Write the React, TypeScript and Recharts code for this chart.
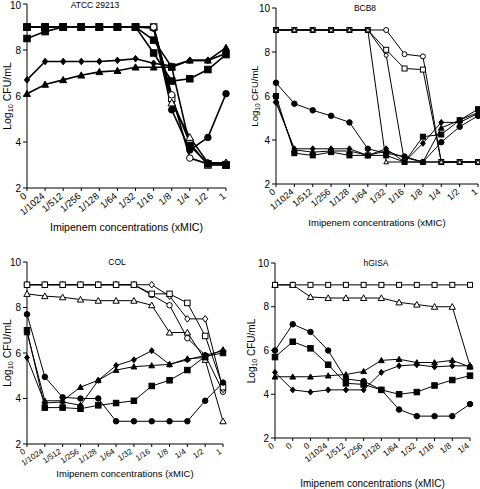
import React from 'react';
import { LineChart, Line, XAxis, YAxis } from 'recharts';

// x-axis categories (imipenem concentration, xMIC)
const mainLabels = ['0', '1/1024', '1/512', '1/256', '1/128', '1/64', '1/32', '1/16', '1/8', '1/4', '1/2', '1'];
const hgisaLabels = ['0', '0', '0', '1/1024', '1/512', '1/256', '1/128', '1/64', '1/32', '1/16', '1/8', '1/4'];
const yTicks = [2, 4, 6, 8, 10];

// ATCC 29213
const atccFilledCircle = [9, 9, 9, 9, 9, 9, 9, 8.95, 5.4, 3.65, 4.2, 6.1];
const atccOpenSquare = [9, 9, 9, 9, 9, 9, 9, 9, 5.9, 3.95, 3.0, 3.0];
const atccOpenTriangle = [9, 9, 9, 9, 9, 9, 9, 9, 5.7, 4.2, 3.1, 3.1];
const atccOpenCircle = [9, 9, 9, 9, 9, 9, 9, 9, 6.05, 3.3, 3.05, 3.05];
const atccFilledDiamond = [6.7, 7.5, 7.5, 7.5, 7.5, 7.55, 7.62, 7.42, 7.3, 7.55, 7.55, 7.85];
const atccFilledTriangle = [6.1, 6.5, 6.7, 6.9, 7.05, 7.1, 7.25, 7.25, 7.25, 7.55, 7.55, 8.1];
const atccFilledSquareA = [8.5, 8.8, 9, 9, 9, 9, 9, 7.87, 6.65, 6.75, 7.15, 7.8];
const atccFilledSquareB = [9, 9, 9, 9, 9, 9, 9, 8.43, 7.26, 3.85, 3.05, 3.0];

// BCB8
const bcbOpenCircle = [9, 9, 9, 9, 9, 9, 9, 7.9, 7.8, 3, 3, 3];
const bcbOpenSquare = [9, 9, 9, 9, 9, 9, 8.1, 7.25, 7.2, 3, 3, 3];
const bcbOpenCircleB = [9, 9, 9, 9, 9, 9, 7.85, 3, 3, 3, 3, 3];
const bcbOpenTriangle = [9, 9, 9, 9, 9, 9, 3, 3, 3, 3, 3, 3];
const bcbFilledCircle = [6.6, 5.65, 5.35, 5.1, 4.8, 3.6, 3.4, 3.25, 3.0, 3.9, 4.6, 5.1];
const bcbFilledSquare = [6.0, 3.4, 3.3, 3.45, 3.3, 3.3, 3.3, 3.0, 4.15, 4.25, 4.9, 5.4];
const bcbFilledTriangle = [5.8, 3.55, 3.45, 3.5, 3.5, 3.3, 3.5, 3.2, 3.0, 4.55, 4.9, 5.25];
const bcbFilledDiamond = [5.7, 3.6, 3.6, 3.6, 3.6, 3.3, 3.6, 3.0, 3.85, 4.8, 4.8, 5.2];

// COL
const colOpenSquare = [9, 9, 9, 9, 9, 9, 9, 8.6, 8.6, 8.2, 6.75, 4.5];
const colOpenDiamond = [9, 9, 9, 9, 9, 9, 9, 9, 8.5, 7.5, 7.5, 4.4];
const colOpenCircle = [9, 9, 9, 9, 9, 9, 9, 8.55, 8.1, 6.65, 5.9, 4.3];
const colOpenTriangle = [8.6, 8.5, 8.45, 8.35, 8.3, 8.3, 8.3, 8.1, 6.9, 6.9, 5.7, 3.0];
const colFilledSquare = [7.0, 3.6, 3.6, 3.55, 3.7, 3.8, 3.9, 4.55, 4.8, 5.25, 5.85, 6.0];
const colFilledCircle = [7.7, 4.95, 4.05, 4.0, 4.0, 3.0, 3.0, 3.0, 3.0, 3.0, 3.9, 4.7];
const colFilledTriangle = [6.9, 3.9, 3.9, 4.5, 4.8, 5.25, 5.4, 5.45, 5.5, 5.75, 5.8, 6.15];
const colFilledDiamond = [5.8, 3.8, 3.85, 3.7, 4.8, 5.45, 5.7, 6.1, 5.5, 5.7, 5.9, 6.1];

// hGISA
const hgisaOpenSquare = [9, 9, 9, 9, 9, 9, 9, 9, 9, 9, 9, 9];
const hgisaOpenTriangle = [9, 9, 8.45, 8.4, 8.4, 8.4, 8.4, 8.2, 8.1, 8.0, 8.0, 5.3];
const hgisaFilledCircle = [6.0, 7.2, 6.85, 6.0, 4.7, 4.6, 4.2, 3.3, 3.0, 3.0, 3.0, 3.55];
const hgisaFilledSquare = [5.7, 6.4, 6.1, 5.35, 4.5, 4.45, 4.2, 4.0, 4.1, 4.4, 4.65, 4.85];
const hgisaFilledTriangle = [4.8, 4.8, 4.8, 4.85, 4.9, 5.05, 5.55, 5.6, 5.45, 5.45, 5.55, 5.25];
const hgisaFilledDiamond = [5.0, 4.2, 4.1, 4.2, 4.2, 4.2, 5.0, 5.3, 5.35, 5.25, 5.3, 5.3];

const FONT = 'Arial, "Liberation Sans", sans-serif';

type Shape = 'square' | 'circle' | 'triangle' | 'diamond';

interface Series {
  values: number[];
  shape: Shape;
  filled: boolean;
  size?: number;
}

const makeDot = (shape: Shape, filled: boolean, size: number) => (props: any) => {
  const { cx, cy, index } = props;
  const key = `dot-${index}`;
  if (cx == null || cy == null) return <g key={key} />;
  const fill = filled ? '#000' : '#fff';
  const h = size / 2;
  const common = { fill, stroke: '#000', strokeWidth: 1 };
  if (shape === 'square') {
    return <rect key={key} x={cx - h} y={cy - h} width={size} height={size} {...common} />;
  }
  if (shape === 'circle') {
    return <circle key={key} cx={cx} cy={cy} r={h} {...common} />;
  }
  if (shape === 'triangle') {
    const t = h * 1.15;
    return (
      <polygon
        key={key}
        points={`${cx},${cy - t} ${cx + t},${cy + t * 0.8} ${cx - t},${cy + t * 0.8}`}
        {...common}
      />
    );
  }
  const d = h * 1.2;
  return (
    <polygon
      key={key}
      points={`${cx},${cy - d} ${cx + d * 0.8},${cy} ${cx},${cy + d} ${cx - d * 0.8},${cy}`}
      {...common}
    />
  );
};

interface PanelProps {
  left: number;
  top: number;
  width: number;
  height: number;
  plotLeft: number;
  plotRight: number;
  plotTop: number;
  plotBottom: number;
  labels: string[];
  series: Series[];
  title: string;
  titleX: number;
  titleY: number;
  xLabelY: number;
  xLabelSize: number;
  yLabelX: number;
  yLabelSize: number;
  tickAngle: number;
  tickSize: number;
  lineWidth: number;
  markerSize: number;
}

function Panel(p: PanelProps) {
  const data = p.labels.map((label, i) => {
    const row: Record<string, number | string> = { i: `c${i}`, label };
    p.series.forEach((s, k) => {
      row[`s${k}`] = s.values[i];
    });
    return row;
  });
  const xAxisHeight = 40;
  const plotCenterX = (p.plotLeft + p.plotRight) / 2;
  const plotCenterY = (p.plotTop + p.plotBottom) / 2;

  return (
    <div style={{ position: 'absolute', left: p.left, top: p.top, width: p.width, height: p.height }}>
      <LineChart
        width={p.width}
        height={p.height}
        data={data}
        margin={{
          top: p.plotTop,
          right: p.width - p.plotRight,
          bottom: p.height - p.plotBottom - xAxisHeight,
          left: 0,
        }}
      >
        <XAxis
          dataKey="i"
          type="category"
          interval={0}
          height={xAxisHeight}
          stroke="#000"
          tickSize={3}
          tickMargin={1}
          padding={{ left: 0, right: 0 }}
          angle={-p.tickAngle}
          textAnchor="end"
          tickFormatter={(v: string) => p.labels[Number(String(v).slice(1))] ?? ''}
          tick={{ fontSize: p.tickSize, fill: '#000', fontFamily: FONT, dx: -4, dy: 0 }}
        />
        <YAxis
          type="number"
          domain={[2, 10]}
          ticks={yTicks}
          width={p.plotLeft}
          stroke="#000"
          tickSize={4}
          tickMargin={2}
          tick={{ fontSize: 10, fill: '#000', fontFamily: FONT }}
        />
        {p.series.map((s, k) => (
          <Line
            key={k}
            type="linear"
            dataKey={`s${k}`}
            stroke="#000"
            strokeWidth={p.lineWidth}
            dot={makeDot(s.shape, s.filled, s.size ?? p.markerSize)}
            activeDot={false}
            isAnimationActive={false}
          />
        ))}
      </LineChart>
      <div
        style={{
          position: 'absolute',
          left: p.titleX,
          top: p.titleY,
          transform: 'translate(-50%, -50%)',
          fontFamily: FONT,
          fontSize: 8.5,
          lineHeight: 1,
          whiteSpace: 'nowrap',
        }}
      >
        {p.title}
      </div>
      <div
        style={{
          position: 'absolute',
          left: plotCenterX,
          top: p.xLabelY,
          transform: 'translate(-50%, -50%)',
          fontFamily: FONT,
          fontSize: p.xLabelSize,
          whiteSpace: 'nowrap',
        }}
      >
        Imipenem concentrations (xMIC)
      </div>
      <div
        style={{
          position: 'absolute',
          left: p.yLabelX,
          top: plotCenterY,
          transform: 'translate(-50%, -50%) rotate(-90deg)',
          fontFamily: FONT,
          fontSize: p.yLabelSize,
          whiteSpace: 'nowrap',
        }}
      >
        Log<sub style={{ fontSize: '0.7em', verticalAlign: '-0.25em' }}>10</sub> CFU/mL
      </div>
    </div>
  );
}

export default function App() {
  return (
    <div style={{ position: 'absolute', left: 0, top: 0, width: 480, height: 489, background: '#fff' }}>
      <Panel
        left={0}
        top={0}
        width={240}
        height={245}
        plotLeft={27}
        plotRight={226}
        plotTop={4}
        plotBottom={188}
        labels={mainLabels}
        title="ATCC 29213"
        titleX={95}
        titleY={5}
        xLabelY={227}
        xLabelSize={10.6}
        yLabelX={8}
        yLabelSize={10.5}
        tickAngle={40}
        tickSize={9.5}
        lineWidth={1.6}
        markerSize={6.5}
        series={[
          { values: atccFilledCircle, shape: 'circle', filled: true },
          { values: atccOpenSquare, shape: 'square', filled: false },
          { values: atccOpenTriangle, shape: 'triangle', filled: false },
          { values: atccOpenCircle, shape: 'circle', filled: false },
          { values: atccFilledDiamond, shape: 'diamond', filled: true, size: 5.5 },
          { values: atccFilledTriangle, shape: 'triangle', filled: true, size: 6 },
          { values: atccFilledSquareA, shape: 'square', filled: true },
          { values: atccFilledSquareB, shape: 'square', filled: true },
        ]}
      />
      <Panel
        left={240}
        top={0}
        width={240}
        height={245}
        plotLeft={36}
        plotRight={238}
        plotTop={8}
        plotBottom={184}
        labels={mainLabels}
        title="BCB8"
        titleX={125}
        titleY={8}
        xLabelY={222}
        xLabelSize={9.5}
        yLabelX={15}
        yLabelSize={9.5}
        tickAngle={40}
        tickSize={9}
        lineWidth={1}
        markerSize={5}
        series={[
          { values: bcbOpenCircle, shape: 'circle', filled: false },
          { values: bcbOpenSquare, shape: 'square', filled: false },
          { values: bcbOpenCircleB, shape: 'circle', filled: false, size: 4 },
          { values: bcbOpenTriangle, shape: 'triangle', filled: false, size: 4 },
          { values: bcbFilledCircle, shape: 'circle', filled: true, size: 5.5 },
          { values: bcbFilledTriangle, shape: 'triangle', filled: true },
          { values: bcbFilledDiamond, shape: 'diamond', filled: true },
          { values: bcbFilledSquare, shape: 'square', filled: true },
        ]}
      />
      <Panel
        left={0}
        top={245}
        width={240}
        height={244}
        plotLeft={27}
        plotRight={223}
        plotTop={17}
        plotBottom={199}
        labels={mainLabels}
        title="COL"
        titleX={117}
        titleY={17}
        xLabelY={228}
        xLabelSize={9.5}
        yLabelX={8}
        yLabelSize={10.5}
        tickAngle={33}
        tickSize={8}
        lineWidth={1}
        markerSize={5.5}
        series={[
          { values: colOpenTriangle, shape: 'triangle', filled: false },
          { values: colOpenCircle, shape: 'circle', filled: false },
          { values: colOpenDiamond, shape: 'diamond', filled: false },
          { values: colOpenSquare, shape: 'square', filled: false },
          { values: colFilledDiamond, shape: 'diamond', filled: true, size: 5 },
          { values: colFilledTriangle, shape: 'triangle', filled: true, size: 5 },
          { values: colFilledSquare, shape: 'square', filled: true },
          { values: colFilledCircle, shape: 'circle', filled: true },
        ]}
      />
      <Panel
        left={240}
        top={245}
        width={240}
        height={244}
        plotLeft={35}
        plotRight={230}
        plotTop={18}
        plotBottom={193}
        labels={hgisaLabels}
        title="hGISA"
        titleX={136}
        titleY={18}
        xLabelY={238}
        xLabelSize={10}
        yLabelX={12}
        yLabelSize={10}
        tickAngle={38}
        tickSize={8.5}
        lineWidth={1}
        markerSize={5.5}
        series={[
          { values: hgisaOpenTriangle, shape: 'triangle', filled: false },
          { values: hgisaOpenSquare, shape: 'square', filled: false, size: 5 },
          { values: hgisaFilledDiamond, shape: 'diamond', filled: true, size: 5 },
          { values: hgisaFilledTriangle, shape: 'triangle', filled: true, size: 5 },
          { values: hgisaFilledSquare, shape: 'square', filled: true },
          { values: hgisaFilledCircle, shape: 'circle', filled: true },
        ]}
      />
    </div>
  );
}
